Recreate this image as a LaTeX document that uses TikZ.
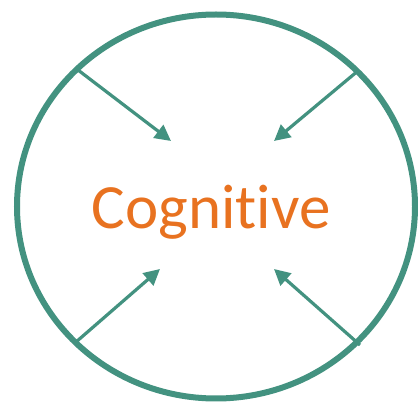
\documentclass[tikz,border=0pt]{standalone}
\usepackage{fontspec}
\setmainfont{Carlito}[Ligatures=NoCommon]
\usetikzlibrary{arrows.meta}
\definecolor{ringteal}{RGB}{67,146,128}
\definecolor{wordorange}{RGB}{232,114,32}

\begin{document}
\begin{tikzpicture}[x=1pt, y=-1pt,
ring/.style={draw=ringteal, line width=6pt},
pointer/.style={draw=ringteal, line width=3.2pt, -{Triangle[length=16pt, width=16pt]}},
word/.style={text=wordorange, font=\fontsize{63}{63}\selectfont, inner sep=0pt, anchor=base},
]
\useasboundingbox (0,0) rectangle (418,403);
\draw[ring] (216,206.5) ellipse [x radius=199, y radius=192];
\node[word] (W) at (211,229) {Cognitive};
% arrow ends
\coordinate (TL) at (78,70);
\coordinate (TR) at (359,70);
\coordinate (BL) at (76,342);
\coordinate (BR) at (360,345);
\coordinate (TLh) at (171,141);
\coordinate (TRh) at (274,141);
\coordinate (BLh) at (160,269);
\coordinate (BRh) at (274,269);
\draw[pointer] (TL) -- (TLh);
\draw[pointer] (TR) -- (TRh);
\draw[pointer] (BL) -- (BLh);
\draw[pointer] (BR) -- (BRh);
\end{tikzpicture}
\end{document}
